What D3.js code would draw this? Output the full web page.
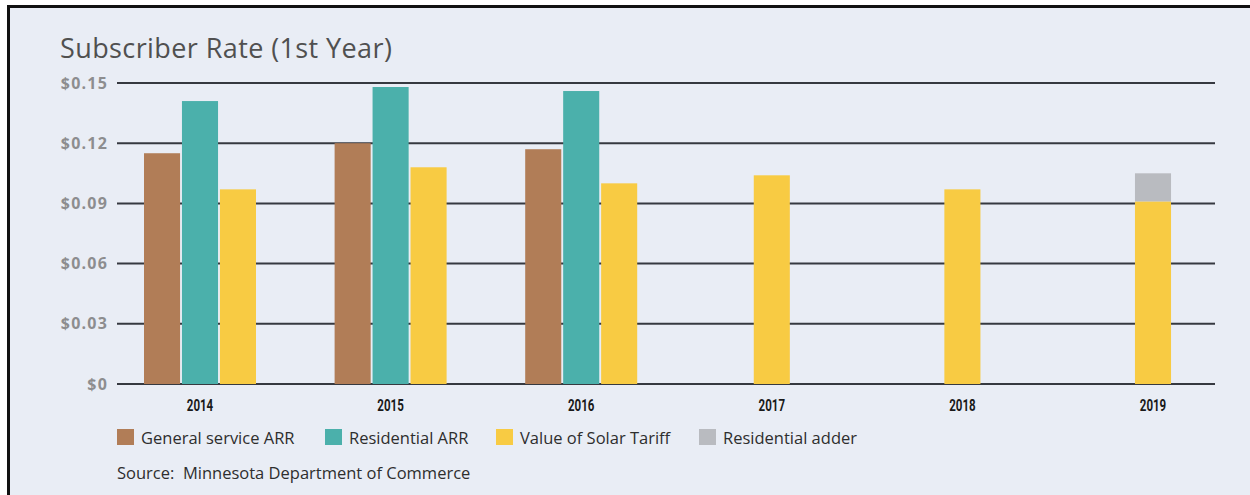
<!DOCTYPE html>
<html>
<head>
<meta charset="utf-8">
<script src="https://cdn.jsdelivr.net/npm/d3@7"></script>
<style>
  html, body { margin: 0; padding: 0; background: #ffffff; }
  svg { display: block; }
</style>
</head>
<body>
<svg id="chart" width="1250" height="495"></svg>
<script>
// ---- data ----
const years = ["2014", "2015", "2016", "2017", "2018", "2019"];
const generalServiceARR = [0.115, 0.120, 0.117, 0, 0, 0];
const residentialARR   = [0.141, 0.148, 0.146, 0, 0, 0];
const valueOfSolar     = [0.097, 0.108, 0.100, 0.104, 0.097, 0.091];
const residentialAdder = [0, 0, 0, 0, 0, 0.014];
const yTickValues = [0, 0.03, 0.06, 0.09, 0.12, 0.15];
const yTickLabels = ["$0", "$0.03", "$0.06", "$0.09", "$0.12", "$0.15"];
const seriesNames = ["General service ARR", "Residential ARR", "Value of Solar Tariff", "Residential adder"];
const seriesColors = ["#b17d57", "#4bb0ab", "#f8cb43", "#b9bbc0"];
const title = "Subscriber Rate (1st Year)";
const source = "Source:  Minnesota Department of Commerce";

// ---- drawing ----
const svg = d3.select("#chart");
svg.append("rect").attr("x", 7).attr("y", 5).attr("width", 1243).attr("height", 490).attr("fill", "#e9edf5");
svg.append("line").attr("x1", 8.5).attr("x2", 8.5).attr("y1", 5).attr("y2", 495).attr("stroke", "#111").attr("stroke-width", 3);
svg.append("line").attr("x1", 7).attr("x2", 1250).attr("y1", 6.5).attr("y2", 6.5).attr("stroke", "#111").attr("stroke-width", 3);

svg.append("text").attr("x", 60).attr("y", 58)
  .attr("font-family", "'Open Sans', sans-serif").attr("font-size", 27).attr("fill", "#505050")
  .attr("letter-spacing", 0.4)
  .text(title);

const y = d3.scaleLinear().domain([0, 0.15]).range([384, 83]);
const x = d3.scalePoint().domain(years).range([200, 1153]);
const slot = d3.scaleBand().domain([0, 1, 2]).range([-56, 56]).paddingInner(0.05);

// gridlines
const grid = svg.append("g");
grid.selectAll("line").data(yTickValues).join("line")
  .attr("x1", 117).attr("x2", 1215)
  .attr("y1", d => y(d)).attr("y2", d => y(d))
  .attr("stroke", "#363940").attr("stroke-width", 2);
const ylab = svg.append("g").attr("transform", "translate(117,0)")
  .call(d3.axisLeft(y).tickValues(yTickValues).tickFormat((d, i) => yTickLabels[i]).tickSize(0).tickPadding(9));
ylab.select(".domain").remove();
ylab.selectAll("text").attr("font-family", "'Open Sans', sans-serif").attr("font-weight", 700)
  .attr("font-size", 16).attr("letter-spacing", 1.2).attr("fill", "#8d8d8f");

// bars
const seriesVals = [generalServiceARR, residentialARR, valueOfSolar];
const bars = [];
years.forEach((yr, i) => {
  const active = [0, 1, 2].filter(s => seriesVals[s][i] > 0);
  const offset = (3 - active.length) / 2;
  active.forEach((s, k) => {
    const pos = k + offset;
    bars.push({ yr, s, pos, y0: 0, y1: seriesVals[s][i] });
    if (s === 2 && residentialAdder[i] > 0) {
      bars.push({ yr, s: 3, pos, y0: seriesVals[s][i], y1: seriesVals[s][i] + residentialAdder[i] });
    }
  });
});
const bw = slot.bandwidth();
const slotX = p => slot(0) + p * slot.step();
svg.append("g").selectAll("rect").data(bars).join("rect")
  .attr("x", d => x(d.yr) + slotX(d.pos))
  .attr("width", bw)
  .attr("y", d => y(d.y1))
  .attr("height", d => y(d.y0) - y(d.y1))
  .attr("fill", d => seriesColors[d.s]);

// x labels (condensed via horizontal scale)
const xg = svg.append("g");
xg.selectAll("text").data(years).join("text")
  .attr("transform", d => `translate(${x(d)},411) scale(0.68,1)`)
  .attr("text-anchor", "middle")
  .attr("font-family", "Roboto, sans-serif").attr("font-weight", 700)
  .attr("font-size", 17).attr("fill", "#1a1a1a").text(d => d);

// legend
const legendX = [117, 325, 496, 699];
const lg = svg.append("g").selectAll("g").data(seriesNames).join("g")
  .attr("transform", (d, i) => `translate(${legendX[i]},429)`);
lg.append("rect").attr("width", 17).attr("height", 16).attr("fill", (d, i) => seriesColors[i]);
lg.append("text").attr("x", 24).attr("y", 15)
  .attr("font-family", "'Open Sans', sans-serif")
  .attr("font-size", 16.5).attr("fill", "#2e2e2e").text(d => d);

svg.append("text").attr("x", 117).attr("y", 479)
  .attr("font-family", "'Open Sans', sans-serif")
  .attr("font-size", 16.5).attr("fill", "#2e2e2e")
  .style("white-space", "pre").text(source);
</script>
</body>
</html>
